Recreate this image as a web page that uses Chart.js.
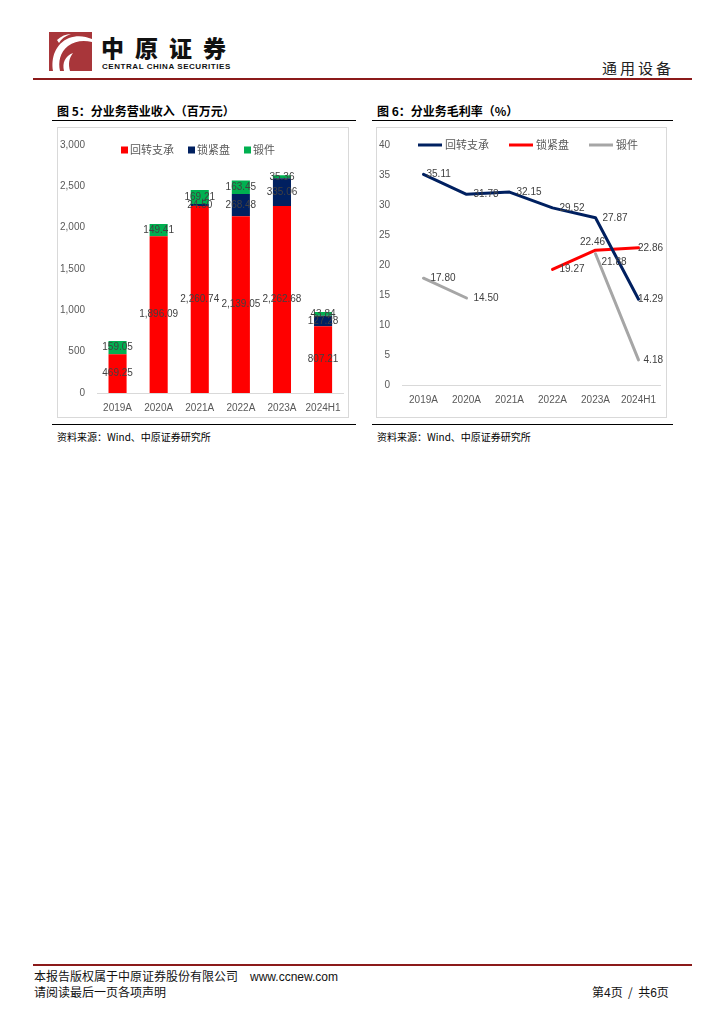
<!DOCTYPE html>
<html>
<head>
<meta charset="utf-8">
<script src="https://cdn.jsdelivr.net/npm/chart.js@4.4.1/dist/chart.umd.min.js"></script>
<style>
  body { margin: 0; background: #fff; font-family: "Noto Sans CJK SC", "Noto Sans", sans-serif; }
  #page { position: relative; width: 724px; height: 1024px; overflow: hidden; }
  .abs { position: absolute; }
  .rule { position: absolute; height: 0; }
  .title { font-size: 12px; font-weight: 700; color: #000; white-space: nowrap; }
  .source { font-size: 10px; color: #000; white-space: nowrap; }
  .box { position: absolute; border: 1px solid #d9d9d9; box-sizing: border-box; }
  canvas { position: absolute; }
</style>
</head>
<body>
<div id="page">
  <!-- header -->
  <svg class="abs" style="left:49px;top:32px" width="43" height="39" viewBox="0 0 43 39">
    <rect width="43" height="39" fill="#a8363a"/>
    <path d="M4 39 C2 26 6 12 20 6 C28 3 36 4 43 7 L43 10 C34 8 26 9 19 14 C11 20 9 30 11 39 Z" fill="#fff"/>
    <path d="M15 39 C13 31 16 24 24 21 C20 26 19 32 21 39 Z" fill="#fff"/>
    <path d="M8 8 C12 4 17 2 22 2 C16 4 12 7 10 11 Z" fill="#fff"/>
  </svg>
  <div class="abs" style="left:101px;top:32px;font-size:23px;line-height:30px;font-weight:900;letter-spacing:11px;color:#111">中原证券</div>
  <div class="abs" style="left:102px;top:62px;font-family:'Liberation Sans';font-size:8px;line-height:9px;font-weight:700;color:#111;letter-spacing:0.55px">CENTRAL CHINA SECURITIES</div>
  <div class="abs" style="left:602px;top:57px;font-size:15px;letter-spacing:3px;color:#222">通用设备</div>
  <div class="rule" style="left:33px;top:78px;width:659px;border-top:2.5px solid #8b1a1a"></div>

  <!-- chart 5 -->
  <div class="abs title" style="left:57px;top:102px">图 5：分业务营业收入（百万元）</div>
  <div class="rule" style="left:52px;top:120px;width:304px;border-top:1.6px solid #000"></div>
  <div class="box" style="left:57px;top:127px;width:292px;height:291px"></div>
  <canvas id="revChart" width="293" height="291" style="left:57px;top:127px"></canvas>
  <div class="rule" style="left:52px;top:424px;width:304px;border-top:1.6px solid #000"></div>
  <div class="abs source" style="left:57px;top:429px">资料来源：Wind、中原证券研究所</div>

  <!-- chart 6 -->
  <div class="abs title" style="left:377px;top:102px">图 6：分业务毛利率（%）</div>
  <div class="rule" style="left:372px;top:120px;width:301px;border-top:1.6px solid #000"></div>
  <div class="box" style="left:376px;top:127px;width:291px;height:291px"></div>
  <canvas id="marginChart" width="291" height="291" style="left:376px;top:127px"></canvas>
  <div class="rule" style="left:372px;top:424px;width:301px;border-top:1.6px solid #000"></div>
  <div class="abs source" style="left:377px;top:429px">资料来源：Wind、中原证券研究所</div>

  <!-- footer -->
  <div class="rule" style="left:33px;top:964px;width:659px;border-top:2px solid #8b1a1a"></div>
  <div class="abs" style="left:34px;top:967px;font-size:12px;color:#111;white-space:nowrap">本报告版权属于中原证券股份有限公司<span style="font-family:'Liberation Sans';margin-left:12px">www.ccnew.com</span></div>
  <div class="abs" style="left:34px;top:983px;font-size:12px;color:#111">请阅读最后一页各项声明</div>
  <div class="abs" style="left:592px;top:983px;font-size:12px;color:#111;white-space:nowrap">第<span style="font-family:'Liberation Sans'">4</span>页 &nbsp;/ &nbsp;共<span style="font-family:'Liberation Sans'">6</span>页</div>
</div>

<script>
const years = ['2019A', '2020A', '2021A', '2022A', '2023A', '2024H1'];

// 营业收入（百万元）
const slewingRev = [469.25, 1896.09, 2260.74, 2139.05, 2262.68, 807.21];
const lockingRev = [null, null, 24.50, 268.48, 335.06, 127.28];
const forgingRev = [159.05, 149.41, 169.21, 163.45, 35.36, 43.84];
const revTicks = [0, 500, 1000, 1500, 2000, 2500, 3000];

// 毛利率（%）
const slewingMargin = [35.11, 31.78, 32.15, 29.52, 27.87, 14.29];
const lockingMargin = [null, null, null, 19.27, 22.46, 22.86];
const forgingMargin = [17.80, 14.50, null, null, 21.88, 4.18];
const marginTicks = [0, 5, 10, 15, 20, 25, 30, 35, 40];

const RED = '#ff0000', NAVY = '#002060', GREEN = '#00b050', GREY = '#a6a6a6';
const NUM_FONT = '10px "Liberation Sans", Arial, sans-serif';
const CJK_FONT = '11px "Noto Sans CJK SC", sans-serif';

function fmt(v) {
    return v.toLocaleString('en-US', { minimumFractionDigits: 2, maximumFractionDigits: 2 });
}

// 数据标签：柱子居中，折线默认在点右侧（超出右边界时往左挪）
const valueLabels = {
    id: 'valueLabels',
    afterDatasetsDraw(chart, args, opts) {
        const ctx = chart.ctx;
        ctx.save();
        ctx.font = NUM_FONT;
        ctx.fillStyle = '#404040';
        chart.data.datasets.forEach((ds, di) => {
            const meta = chart.getDatasetMeta(di);
            meta.data.forEach((el, i) => {
                const v = ds.data[i];
                if (v == null) return;
                const text = fmt(v);
                if (chart.config.type === 'bar') {
                    ctx.textAlign = 'center';
                    ctx.textBaseline = 'middle';
                    ctx.fillText(text, el.x, (el.y + el.base) / 2);
                } else {
                    const o = (opts.offsets && opts.offsets[di] && opts.offsets[di][i]) || [7, 0, 'left'];
                    ctx.textBaseline = 'middle';
                    let x = el.x + o[0];
                    ctx.textAlign = o[2];
                    if (o[2] === 'left') {
                        const w = ctx.measureText(text).width;
                        const maxRight = chart.width - (opts.rightLimit || 4);
                        if (x + w > maxRight) x = maxRight - w;
                    }
                    ctx.fillText(text, x, el.y + o[1]);
                }
            });
        });
        ctx.restore();
    }
};

// 图例：方块或短线
const sketchLegend = {
    id: 'sketchLegend',
    afterDraw(chart, args, opts) {
        const ctx = chart.ctx;
        ctx.save();
        ctx.font = CJK_FONT;
        ctx.textBaseline = 'middle';
        ctx.textAlign = 'left';
        let x = opts.x;
        const y = opts.y;
        chart.data.datasets.forEach(ds => {
            const color = chart.config.type === 'line' ? ds.borderColor : ds.backgroundColor;
            if (opts.marker === 'line') {
                ctx.strokeStyle = color;
                ctx.lineWidth = 3;
                ctx.beginPath();
                ctx.moveTo(x, y);
                ctx.lineTo(x + 24, y);
                ctx.stroke();
                x += 27;
            } else {
                ctx.fillStyle = color;
                ctx.fillRect(x, y - 3.5, 7, 7);
                x += 9;
            }
            ctx.fillStyle = '#595959';
            ctx.fillText(ds.label, x, y);
            x += ctx.measureText(ds.label).width + opts.gap;
        });
        ctx.restore();
    }
};

const tickFont = { family: '"Liberation Sans", Arial, sans-serif', size: 10 };

new Chart(document.getElementById('revChart'), {
    type: 'bar',
    data: {
        labels: years,
        datasets: [
            { label: '回转支承', data: slewingRev, backgroundColor: RED },
            { label: '锁紧盘', data: lockingRev, backgroundColor: NAVY },
            { label: '锻件', data: forgingRev, backgroundColor: GREEN }
        ]
    },
    options: {
        responsive: false,
        animation: false,
        events: [],
        barPercentage: 0.44,
        categoryPercentage: 1,
        layout: { padding: { top: 15, right: 5, left: 0, bottom: 0 } },
        plugins: {
            legend: { display: false },
            tooltip: { enabled: false },
            sketchLegend: { x: 64, y: 23, gap: 14, marker: 'box' }
        },
        scales: {
            x: {
                stacked: true,
                grid: { display: false, drawTicks: false },
                border: { color: '#d9d9d9' },
                ticks: { color: '#595959', font: tickFont, padding: 9 },
                afterFit: s => { s.height = 25; }
            },
            y: {
                stacked: true,
                min: 0, max: 3000,
                afterBuildTicks: s => { s.ticks = revTicks.map(v => ({ value: v })); },
                grid: { display: false, drawTicks: false },
                border: { display: false },
                ticks: { color: '#595959', font: tickFont, padding: 12 },
                afterFit: s => { s.width = 40; }
            }
        }
    },
    plugins: [valueLabels, sketchLegend]
});

new Chart(document.getElementById('marginChart'), {
    type: 'line',
    data: {
        labels: years,
        datasets: [
            { label: '回转支承', data: slewingMargin, borderColor: NAVY },
            { label: '锁紧盘', data: lockingMargin, borderColor: RED },
            { label: '锻件', data: forgingMargin, borderColor: GREY }
        ]
    },
    options: {
        responsive: false,
        animation: false,
        events: [],
        spanGaps: false,
        elements: {
            line: { borderWidth: 3, tension: 0, borderJoinStyle: 'round', borderCapStyle: 'round' },
            point: { radius: 0 }
        },
        layout: { padding: { top: 7, right: 7, left: 0, bottom: 0 } },
        plugins: {
            legend: { display: false },
            tooltip: { enabled: false },
            sketchLegend: { x: 42, y: 18, gap: 20, marker: 'line' },
            valueLabels: {
                rightLimit: 4,
                offsets: {
                    0: { 0: [3, 0, 'left'] },
                    1: { 4: [-3, -8, 'center'] },
                    2: { 4: [6, 9, 'left'] }
                }
            }
        },
        scales: {
            x: {
                offset: true,
                grid: { display: false, drawTicks: false },
                border: { color: '#d9d9d9' },
                ticks: { color: '#595959', font: tickFont, padding: 9 },
                afterFit: s => { s.height = 33; }
            },
            y: {
                min: 0, max: 40,
                afterBuildTicks: s => { s.ticks = marginTicks.map(v => ({ value: v })); },
                grid: { display: false, drawTicks: false },
                border: { display: false },
                ticks: { color: '#595959', font: tickFont, padding: 12 },
                afterFit: s => { s.width = 26; }
            }
        }
    },
    plugins: [valueLabels, sketchLegend]
});
</script>
</body>
</html>
